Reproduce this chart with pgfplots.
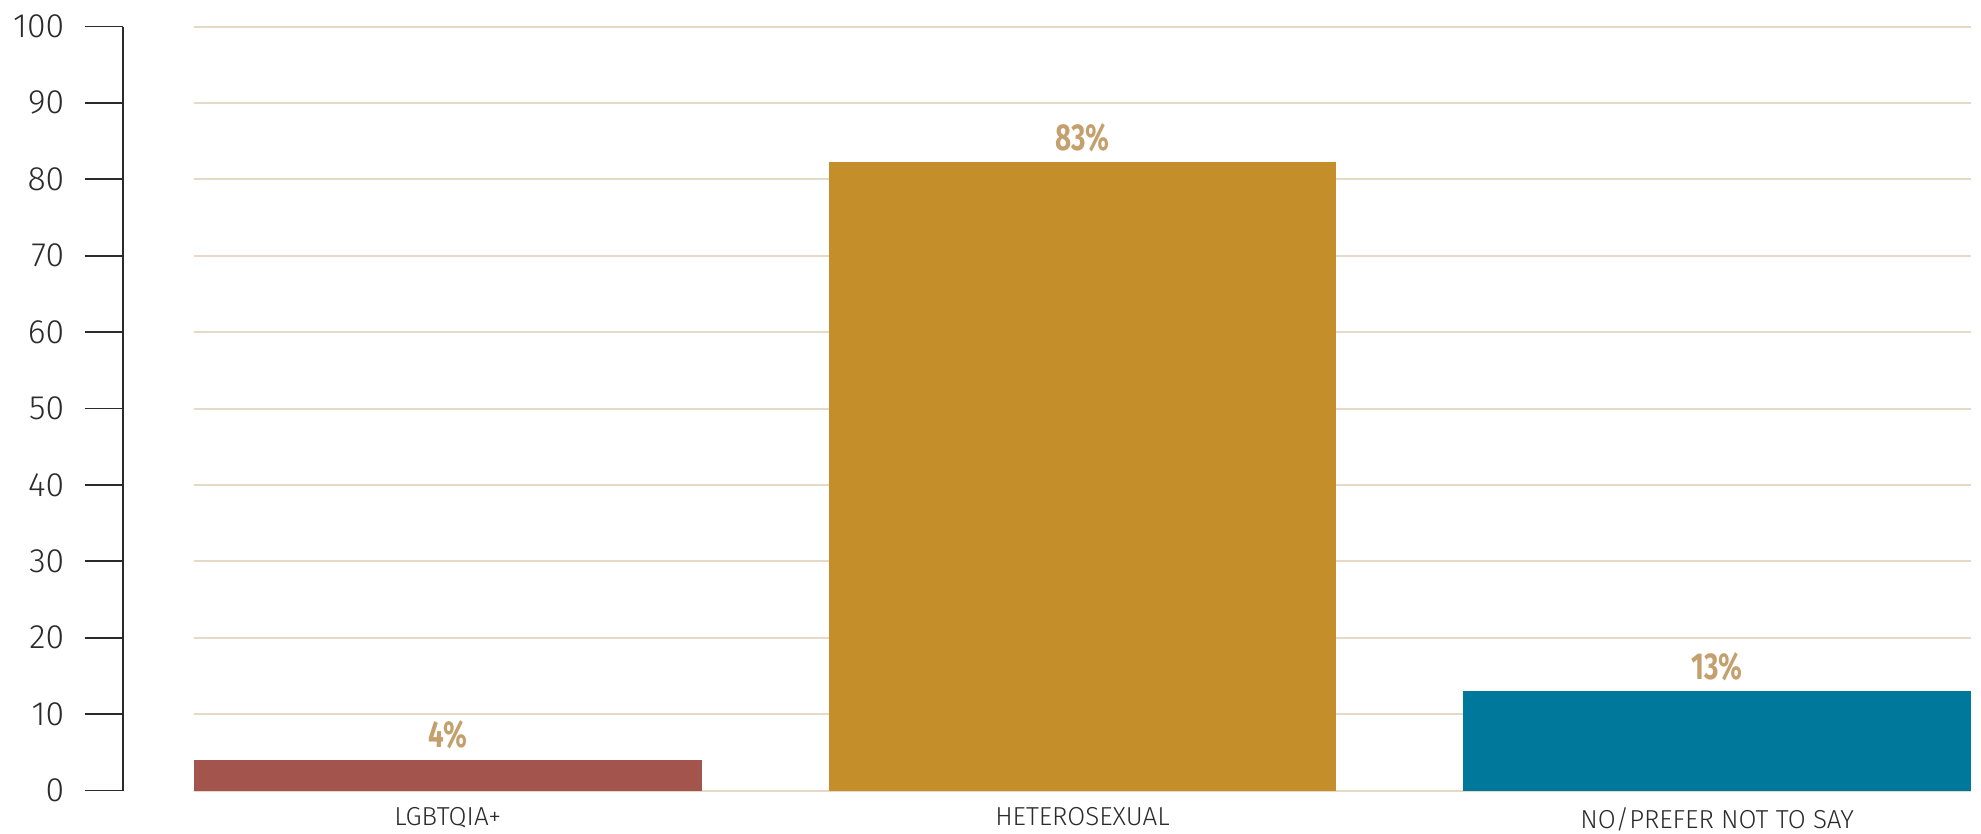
\documentclass[border=0pt]{standalone}
\usepackage{fontspec}
\setmainfont{Fira Sans}[UprightFont={* Light}, BoldFont={* Bold}]
\newfontfamily\condfont{Fira Sans}[UprightFont={* Bold}, FakeStretch=0.74]
\usepackage{pgfplots}
\pgfplotsset{compat=1.18}
\definecolor{cA}{HTML}{A3554D}
\definecolor{cB}{HTML}{C48F2A}
\definecolor{cC}{HTML}{00789C}
\definecolor{labc}{HTML}{C4A06E}
\definecolor{gridc}{HTML}{E6DAC6}
\definecolor{ink}{HTML}{2B2B2B}
\begin{document}
\begin{tikzpicture}
\begin{pgfinterruptboundingbox}
% main axis with bars
\begin{axis}[
  name=main,
  at={(0,0)}, anchor=south west,
  scale only axis, width=710.8pt, height=305.6pt,
  xmin=-0.4, xmax=2.4, ymin=0, ymax=100,
  ybar, bar shift=0pt, bar width=0.8,
  axis line style={draw=none},
  ytick={0,10,...,100}, yticklabels={},
  major tick length=0pt,
  ymajorgrids=true, xmajorgrids=false,
  grid style={draw=gridc, line width=0.8pt},
  xtick={0,1,2},
  xticklabels={LGBTQIA+, HETEROSEXUAL, NO/PREFER NOT TO SAY},
  xticklabel style={font=\fontsize{10.4pt}{12pt}\selectfont, text=ink, inner sep=0pt, anchor=north, yshift=-6.6pt},
  point meta=explicit symbolic,
  nodes near coords,
  every node near coord/.append style={font=\condfont\fontsize{15pt}{17pt}\selectfont, text=labc, inner sep=0pt, anchor=south, yshift=4pt},
  clip=false,
]
\addplot[fill=cA, draw=none] coordinates {(0,4) [4\%]};
\addplot[fill=cB, draw=none] coordinates {(1,82.2) [83\%]};
\addplot[fill=cC, draw=none] coordinates {(2,13) [13\%]};
\end{axis}
% separate y axis
\begin{axis}[
  at={(-28.4pt,0)}, anchor=south west,
  scale only axis, width=0.1pt, height=305.6pt,
  xmin=0, xmax=1, ymin=0, ymax=100,
  hide x axis,
  axis y line*=left,
  y axis line style={draw=ink, line width=0.7pt, -},
  ytick={0,10,...,100},
  tick align=outside,
  major tick length=15.2pt,
  every tick/.style={draw=ink, line width=0.7pt},
  /pgf/number format/assume math mode=true,
  yticklabel style={font=\fontsize{13.5pt}{15pt}\selectfont, text=ink, inner sep=0pt, xshift=-8pt},
]
\addplot[draw=none] coordinates {(0,0)};
\end{axis}
\end{pgfinterruptboundingbox}
\useasboundingbox (-77.6pt,-17pt) rectangle (714.8pt,316.2pt);
\end{tikzpicture}
\end{document}
